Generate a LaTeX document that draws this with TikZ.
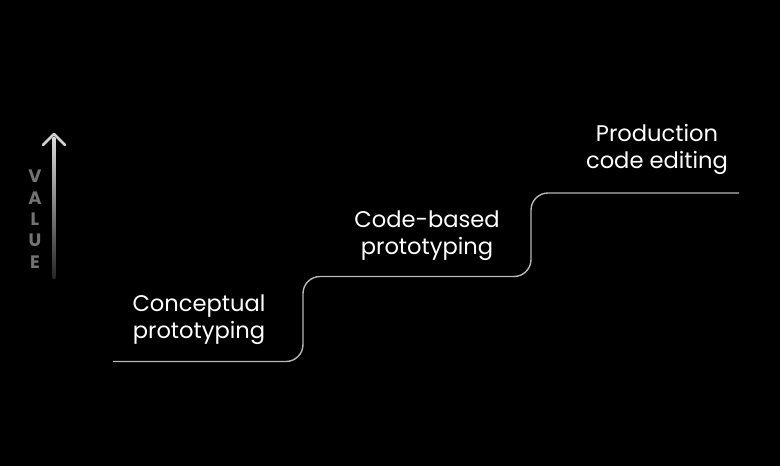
\documentclass[tikz,border=0pt]{standalone}
\usepackage{fontspec}
\setmainfont{Poppins}
\usetikzlibrary{positioning}

\tikzset{
  stair/.style={draw=white!72!black, line width=1.4pt, rounded corners=17pt},
  stagelabel/.style={text=white, font=\fontsize{22.6}{27.5}\selectfont, align=center, inner sep=0pt},
  axisletter/.style={text=white!45!black, font=\bfseries\fontsize{18}{18}\selectfont, inner sep=0pt}
}

\begin{document}
\begin{tikzpicture}[x=1pt, y=-1pt]
  % background
  \fill[black] (0,0) rectangle (780,466);
  \useasboundingbox (0,0) rectangle (780,466);

  % value axis
  \shade[top color=white!85!black, bottom color=white!15!black] (52.6,137) rectangle (55.4,278);
  \draw[white!82!black, line width=2.8pt, line cap=round, line join=round] (43,145) -- (54,134) -- (65,145);
  \foreach \l/\y in {V/176, A/198, L/219, U/240, E/262} {
      \node[axisletter] (ax\l) at (35,\y) {\l};
    }

  % staircase
  \coordinate (s0) at (113,361.5);
  \coordinate (s1) at (303,361.5);
  \coordinate (s2) at (303,276.5);
  \coordinate (s3) at (531,276.5);
  \coordinate (s4) at (531,193);
  \coordinate (s5) at (739,193);
  \draw[stair] (s0) -- (s1) -- (s2) -- (s3) -- (s4) -- (s5);

  % stage labels
  \node[stagelabel] (concept) at (199,319.5) {Conceptual\\prototyping};
  \node[stagelabel] (codebased) at (427,235.5) {Code-based\\prototyping};
  \node[stagelabel] (production) at (657,149.5) {Production\\code editing};
\end{tikzpicture}
\end{document}
